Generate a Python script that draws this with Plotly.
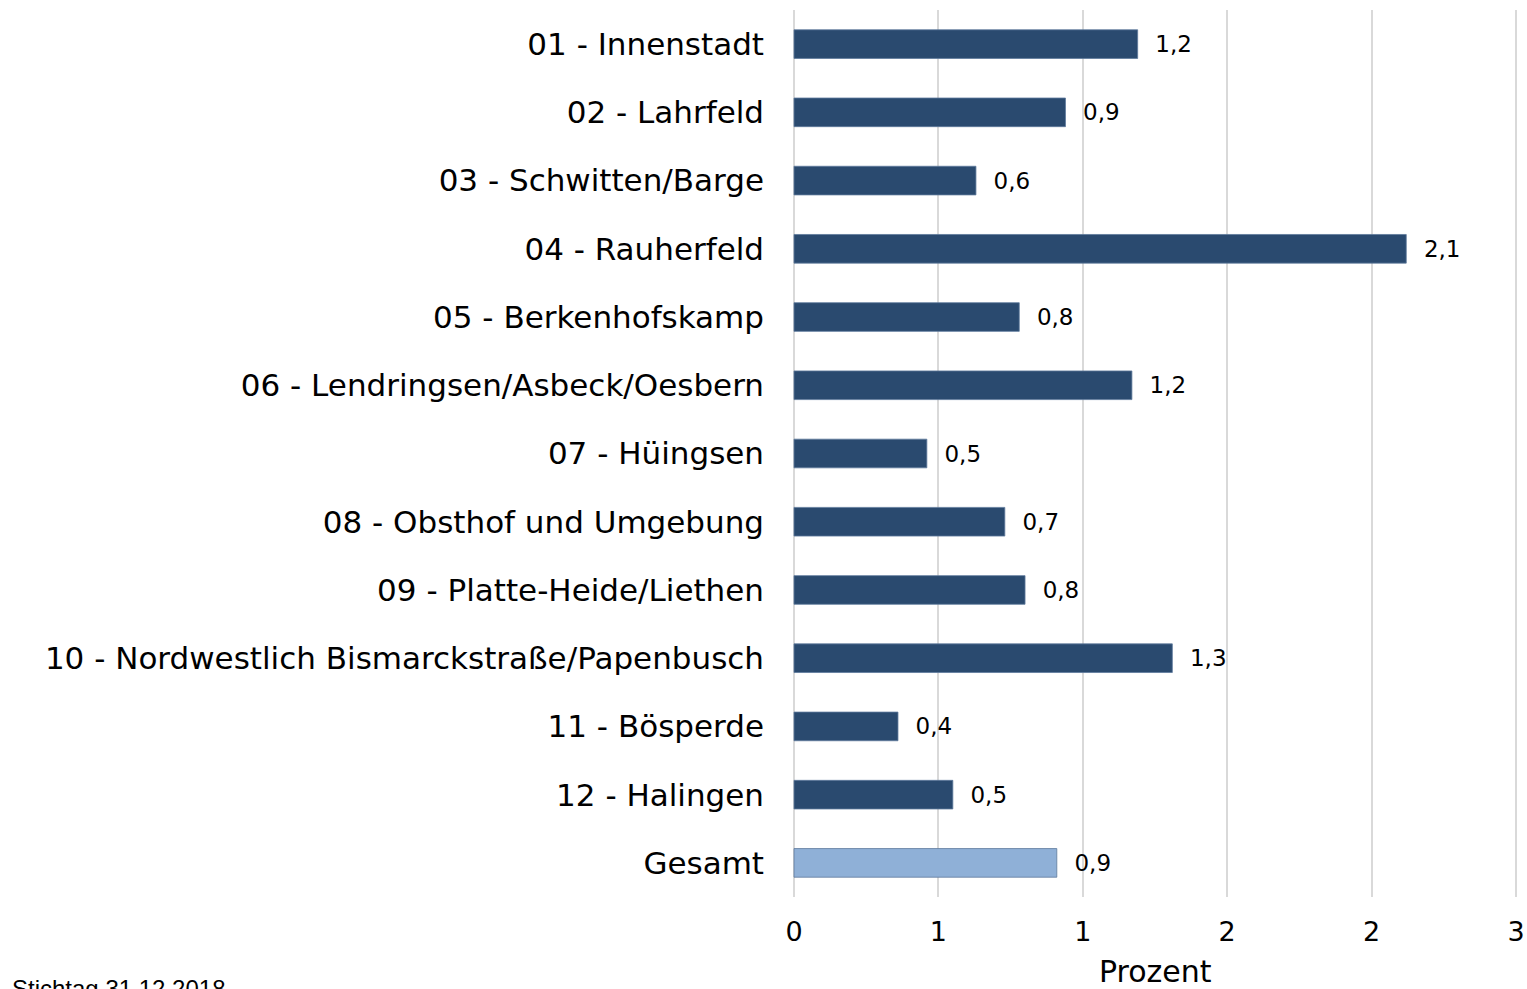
import plotly.graph_objects as go

categories = [
    "01 - Innenstadt",
    "02 - Lahrfeld",
    "03 - Schwitten/Barge",
    "04 - Rauherfeld",
    "05 - Berkenhofskamp",
    "06 - Lendringsen/Asbeck/Oesbern",
    "07 - Hüingsen",
    "08 - Obsthof und Umgebung",
    "09 - Platte-Heide/Liethen",
    "10 - Nordwestlich Bismarckstraße/Papenbusch",
    "11 - Bösperde",
    "12 - Halingen",
    "Gesamt",
]
values = [1.19, 0.94, 0.63, 2.12, 0.78, 1.17, 0.46, 0.73, 0.80, 1.31, 0.36, 0.55, 0.91]
value_labels = ["1,2", "0,9", "0,6", "2,1", "0,8", "1,2", "0,5", "0,7", "0,8", "1,3", "0,4", "0,5", "0,9"]
tick_vals = [0, 0.5, 1.0, 1.5, 2.0, 2.5]
tick_text = ["0", "1", "1", "2", "2", "3"]
x_title = "Prozent"
footer = "Stichtag 31.12.2018"

DARK = "#2A4A6F"
LIGHT = "#8FB0D7"
colors = [LIGHT if c == "Gesamt" else DARK for c in categories]

FONT = "DejaVu Sans, Verdana, sans-serif"

W, H = 1527, 989
X0PX, X25PX = 794, 1516          # page pixels of value 0 and 2.5
PADPX = 3                        # small pad so edge gridlines are drawn
scale = (X25PX - X0PX) / 2.5
pad = PADPX / scale
PX0, PX1 = X0PX - PADPX, X25PX + PADPX
PY0, PY1 = 10, 897
L, R, T, B = PX0, W - PX1, PY0, H - PY1
pw, ph = PX1 - PX0, PY1 - PY0

fig = go.Figure(
    go.Bar(
        x=values,
        y=categories,
        orientation="h",
        marker=dict(color=colors, line=dict(color="#5E7A9C", width=0.8)),
        text=["\u00a0\u00a0" + t for t in value_labels],
        textposition="outside",
        textfont=dict(family=FONT, size=23, color="#000000"),
        cliponaxis=False,
        width=0.42,
    )
)

fig.update_layout(
    width=W,
    height=H,
    margin=dict(l=L, r=R, t=T, b=B, autoexpand=False),
    paper_bgcolor="white",
    plot_bgcolor="white",
    showlegend=False,
    font=dict(family=FONT, color="#000000"),
    xaxis=dict(
        range=[-pad, 2.5 + pad],
        tickvals=tick_vals,
        ticktext=tick_text,
        showgrid=True,
        gridcolor="#D9D9D9",
        gridwidth=2,
        zeroline=False,
        showline=False,
        tickfont=dict(family=FONT, size=27),
        ticks="",
        ticklabelstandoff=16,
        automargin=False,
    ),
    yaxis=dict(
        autorange="reversed",
        showgrid=False,
        zeroline=False,
        showline=False,
        ticks="",
        tickfont=dict(family=FONT, size=31),
        ticklabelstandoff=26,
        automargin=False,
    ),
    annotations=[
        dict(
            text=x_title,
            xref="paper",
            yref="paper",
            x=((X0PX + X25PX) / 2 - PX0) / pw,
            y=-(971 - PY1) / ph,
            xanchor="center",
            yanchor="middle",
            showarrow=False,
            font=dict(family=FONT, size=30, color="#000000"),
        ),
        dict(
            text=footer,
            xref="paper",
            yref="paper",
            x=(10 - PX0) / pw,
            y=-(973 - PY1) / ph,
            xanchor="left",
            yanchor="top",
            showarrow=False,
            font=dict(family="Liberation Sans, Arial, sans-serif", size=24, color="#000000"),
        ),
    ],
)

fig.write_html(
    "out.html",
    config={"displayModeBar": False},
    post_script="document.body.style.margin='0';document.body.style.overflow='hidden';",
)
